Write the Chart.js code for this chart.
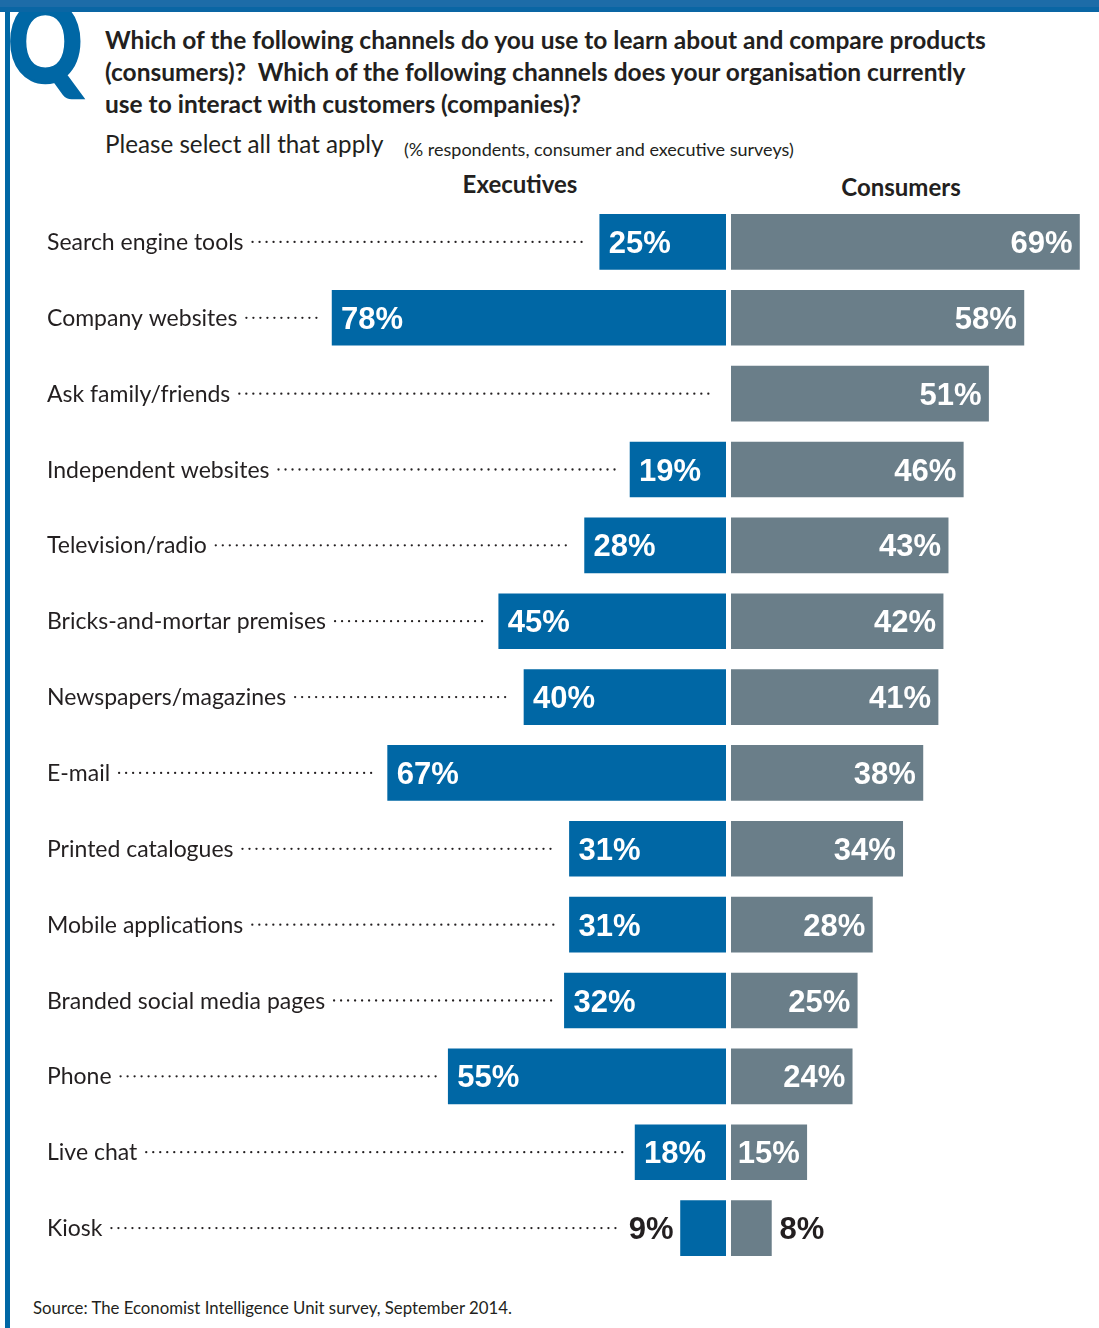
<!DOCTYPE html>
<html>
<head>
<meta charset="utf-8">
<script src="https://cdn.jsdelivr.net/npm/chart.js@4.4.1/dist/chart.umd.min.js"></script>
<style>
    html, body { margin: 0; padding: 0; background: #fff; }
    body { width: 1099px; height: 1328px; position: relative; overflow: hidden; font-family: Lato, sans-serif; color: #231f20; }
    #topband { position: absolute; left: 0; top: 0; width: 1099px; height: 12px; z-index: 2;
        background: linear-gradient(#1d6ca8 0, #1d6ca8 7px, #0a66a4 7px, #0a66a4 12px); }
    #leftrule { position: absolute; left: 5px; top: 12px; width: 5px; height: 1316px; background: #0067a5; }
    #q { position: absolute; left: 7px; top: 12px; width: 85px; height: 90px; overflow: hidden; z-index: 1; }
    #q span { position: absolute; left: 1px; top: -29px; font: 900 112px Lato, sans-serif; line-height: 1;
        color: #0067a5; -webkit-text-stroke: 2.5px #0067a5; transform: scaleX(0.82); transform-origin: 0 0; }
    .line { position: absolute; white-space: nowrap; line-height: 32px; }
    .title { left: 105px; font-weight: 700; font-size: 24.5px; }
    #sub { left: 105px; top: 128px; font-size: 24.2px; }
    #note { left: 404px; top: 133px; font-size: 18px; }
    .head { font-weight: 700; font-size: 24px; transform: translateX(-50%); }
    #source { left: 33px; top: 1292px; font-size: 16.8px; }
    .panel { position: absolute; top: 204px; height: 1062px; }
    #execPanel { left: 0; width: 726px; }
    #consPanel { left: 731px; width: 368px; }
</style>
</head>
<body>
<div id="topband"></div>
<div id="leftrule"></div>
<div id="q"><span>Q</span></div>

<div class="line title" style="top:24px">Which of the following channels do you use to learn about and compare products</div>
<div class="line title" style="top:56px">(consumers)?&nbsp; Which of the following channels does your organisation currently</div>
<div class="line title" style="top:88px">use to interact with customers (companies)?</div>
<div class="line" id="sub">Please select all that apply</div>
<div class="line" id="note">(% respondents, consumer and executive surveys)</div>
<div class="line head" style="left:520px; top:168px">Executives</div>
<div class="line head" style="left:901px; top:171px">Consumers</div>

<div class="panel" id="execPanel"><canvas id="executives"></canvas></div>
<div class="panel" id="consPanel"><canvas id="consumers"></canvas></div>

<div class="line" id="source">Source: The Economist Intelligence Unit survey, September 2014.</div>

<script>
const categories = [
    'Search engine tools', 'Company websites', 'Ask family/friends', 'Independent websites',
    'Television/radio', 'Bricks-and-mortar premises', 'Newspapers/magazines', 'E-mail',
    'Printed catalogues', 'Mobile applications', 'Branded social media pages', 'Phone',
    'Live chat', 'Kiosk'
];
const executives = [25, 78, null, 19, 28, 45, 40, 67, 31, 31, 32, 55, 18, 9];
const consumers = [69, 58, 51, 46, 43, 42, 41, 38, 34, 28, 25, 24, 15, 8];

const BLUE = '#0067a5';
const GREY = '#6a7e89';
const INK = '#231f20';
const PX_PER_PCT = 5.05;     // both sides share one scale
const VALUE_FONT = 'bold 31px "Liberation Sans", Arial, sans-serif';
const LABEL_FONT = '23px Lato, sans-serif';

// is the bar long enough to hold its own label?
function fitsInside(ctx, len, text) {
    ctx.save();
    ctx.font = VALUE_FONT;
    const w = ctx.measureText(text).width;
    ctx.restore();
    return len >= w + 8;
}

// value labels: white inside the bar, dark outside when the bar is too short
const valueLabels = {
    id: 'valueLabels',
    afterDatasetsDraw(chart) {
        const ctx = chart.ctx;
        const side = chart.options.plugins.valueLabels.side;
        const meta = chart.getDatasetMeta(0);
        ctx.save();
        ctx.font = VALUE_FONT;
        ctx.textBaseline = 'alphabetic';
        meta.data.forEach((bar, i) => {
            const v = chart.data.datasets[0].data[i];
            if (v == null) return;
            const text = v + '%';
            const len = Math.abs(bar.x - bar.base);
            const y = bar.y + 11;
            if (fitsInside(ctx, len, text)) {
                ctx.fillStyle = '#fff';
                if (side === 'left') { ctx.textAlign = 'left'; ctx.fillText(text, bar.x + 9, y); }
                else { ctx.textAlign = 'right'; ctx.fillText(text, bar.x - 7, y); }
            } else {
                ctx.fillStyle = INK;
                if (side === 'left') { ctx.textAlign = 'right'; ctx.fillText(text, bar.x - 7, y); }
                else { ctx.textAlign = 'left'; ctx.fillText(text, bar.x + 8, y); }
            }
        });
        ctx.restore();
    }
};

// category names with dotted leaders running up to each executive bar
const leaders = {
    id: 'leaders',
    afterDatasetsDraw(chart) {
        const ctx = chart.ctx;
        const xs = chart.scales.x;
        ctx.save();
        ctx.fillStyle = INK;
        categories.forEach((name, i) => {
            const y = chart.scales.y.getPixelForValue(i);
            ctx.font = LABEL_FONT;
            ctx.textAlign = 'left';
            ctx.textBaseline = 'alphabetic';
            ctx.fillText(name, 47, y + 8);
            const start = 47 + ctx.measureText(name).width + 9;
            const v = executives[i] || 0;
            const barStart = xs.getPixelForValue(v);
            let end = barStart - 12;
            const text = v + '%';
            if (v && !fitsInside(ctx, xs.getPixelForValue(0) - barStart, text)) {
                ctx.font = VALUE_FONT;
                end = barStart - 7 - ctx.measureText(text).width - 8;
            }
            for (let x = start; x <= end; x += 7) {
                ctx.beginPath();
                ctx.arc(x, y, 1.15, 0, Math.PI * 2);
                ctx.fill();
            }
        });
        ctx.restore();
    }
};

function makeSide(canvasId, values, colour, side) {
    const panel = document.getElementById(canvasId).parentNode;
    return new Chart(document.getElementById(canvasId), {
        type: 'bar',
        data: {
            labels: categories,
            datasets: [{
                data: values,
                backgroundColor: colour,
                borderWidth: 0,
                barThickness: 55
            }]
        },
        options: {
            indexAxis: 'y',
            responsive: true,
            maintainAspectRatio: false,
            animation: false,
            layout: { padding: 0 },
            plugins: {
                legend: { display: false },
                tooltip: { enabled: false },
                valueLabels: { side: side }
            },
            scales: {
                x: {
                    display: false,
                    reverse: side === 'left',
                    min: 0,
                    max: panel.clientWidth / PX_PER_PCT
                },
                y: { display: false }
            }
        },
        plugins: side === 'left' ? [valueLabels, leaders] : [valueLabels]
    });
}

makeSide('executives', executives, BLUE, 'left');
makeSide('consumers', consumers, GREY, 'right');
</script>
</body>
</html>
